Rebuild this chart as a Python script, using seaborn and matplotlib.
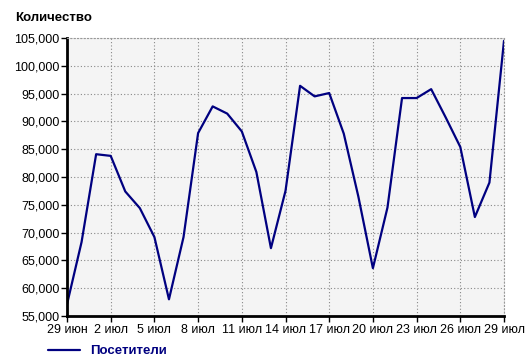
import matplotlib
matplotlib.use("Agg")
import matplotlib.pyplot as plt
import matplotlib.ticker as mticker
import seaborn as sns
import pandas as pd
import numpy as np

start_date = "2024-06-29"
visitors = [57100, 68300, 84100, 83800, 77400, 74400, 69200, 58000, 69200, 87900,
            92700, 91400, 88200, 80900, 67200, 77500, 96400, 94500, 95100, 87800,
            76500, 63600, 74500, 94200, 94200, 95800, 90700, 85400, 72800, 79000,
            104500]
tick_labels = ["29 июн", "2 июл", "5 июл", "8 июл", "11 июл", "14 июл",
               "17 июл", "20 июл", "23 июл", "26 июл", "29 июл"]
y_ticks = [55000, 60000, 65000, 70000, 75000, 80000, 85000, 90000, 95000, 100000, 105000]
series_name = "Посетители"
y_title = "Количество"

dates = pd.date_range(start_date, periods=len(visitors), freq="D")
df = pd.DataFrame({"date": dates, "value": visitors, "series": series_name})

sns.set_style("ticks")
plt.rcParams["font.family"] = ["Liberation Sans", "DejaVu Sans"]
plt.rcParams["font.size"] = 9

fig = plt.figure(figsize=(5.28, 3.62), dpi=100)
ax = fig.add_axes([67/528, 1-316/362, (504-67)/528, (316-38)/362])
ax.set_facecolor("#f4f4f4")

navy = "#000080"
sns.lineplot(data=df, x="date", y="value", hue="series", palette=[navy],
             linewidth=1.6, ax=ax, legend=False)

ax.set_xlim(dates[0], dates[-1])
ax.set_ylim(y_ticks[0], y_ticks[-1])
ax.set_yticks(y_ticks)
ax.yaxis.set_major_formatter(mticker.FuncFormatter(lambda v, p: f"{int(v):,}"))
ax.set_xticks(dates[::3])
ax.set_xticklabels(tick_labels)
ax.set_xlabel("")
ax.set_ylabel("")

grid_kw = dict(color="#888888", linewidth=0.8, linestyle=(0, (1, 2)))
ax.grid(True, **grid_kw)
ax.set_axisbelow(True)

for s in ["top", "right"]:
    ax.spines[s].set_visible(True)
    ax.spines[s].set_color("#999999")
    ax.spines[s].set_linewidth(0.8)
    ax.spines[s].set_linestyle((0, (1, 2)))
for s in ["left", "bottom"]:
    ax.spines[s].set_color("black")
    ax.spines[s].set_linewidth(2)

ax.tick_params(axis="both", direction="out", length=4, width=1, color="black",
               labelsize=9, labelcolor="black", pad=1.5)

fig.text(15/528, 1-18/362, y_title, fontsize=9.5, fontweight="bold",
         ha="left", va="center", color="black")

from matplotlib.lines import Line2D
h = [Line2D([0], [0], color=navy, linewidth=1.6)]
leg = fig.legend(h, [series_name], loc="center left", bbox_to_anchor=(48/528, 1-351/362),
                 frameon=False, handlelength=2.4, handletextpad=0.8, borderpad=0,
                 borderaxespad=0, prop={"weight": "bold", "size": 9.5})
for t in leg.get_texts():
    t.set_color(navy)

fig.savefig("out.png", dpi=100)
